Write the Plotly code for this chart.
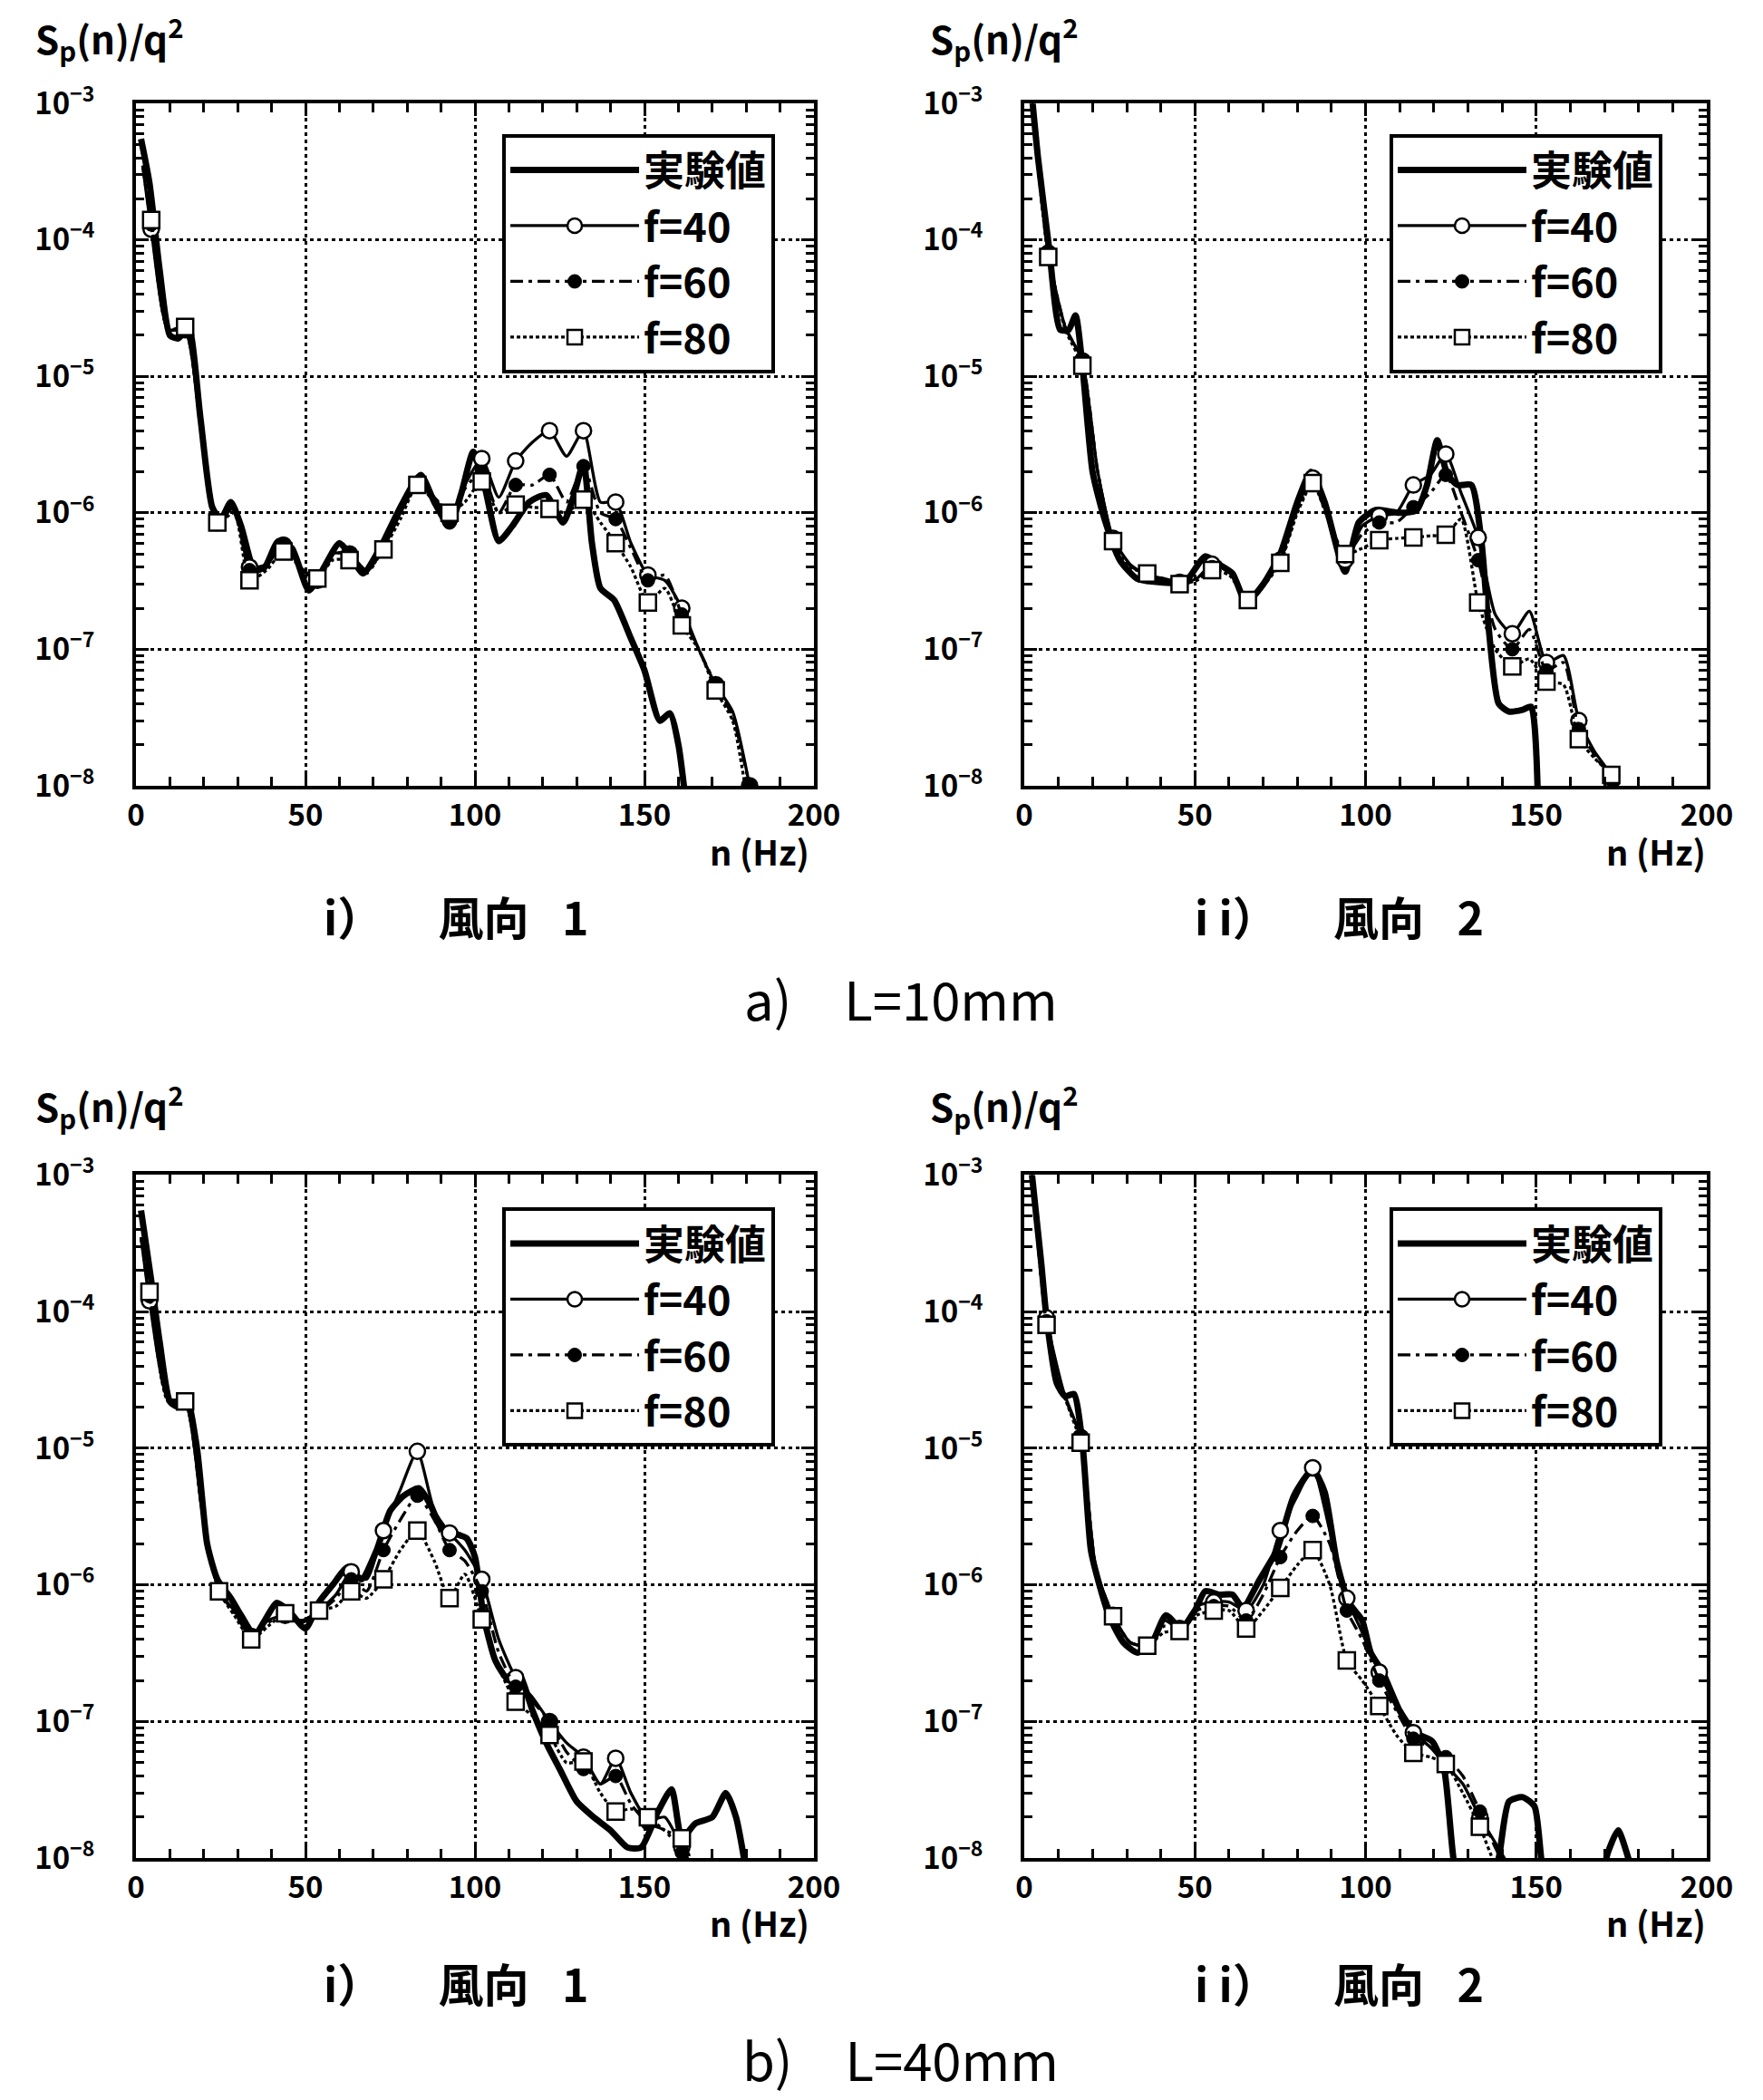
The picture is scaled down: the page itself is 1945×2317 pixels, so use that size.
import plotly.graph_objects as go

# ---------------- tick labels / names ----------------
X_TICKS = [0, 50, 100, 150, 200]
X_TICK_TEXT = ["0", "50", "100", "150", "200"]
Y_TICKS = [1e-8, 1e-7, 1e-6, 1e-5, 1e-4, 1e-3]
Y_TICK_TEXT = ["10<sup>−8</sup>", "10<sup>−7</sup>", "10<sup>−6</sup>",
               "10<sup>−5</sup>", "10<sup>−4</sup>", "10<sup>−3</sup>"]
SERIES_NAMES = ["実験値", "f=40", "f=60", "f=80"]

# ---------------- a) L=10mm, i) 風向1 ----------------
A1_EXP_N = [1.5, 4, 7, 10, 12.5, 15.5, 19, 22.5, 25, 28, 31, 35, 38, 42, 46, 51, 55, 60, 63, 67,
            72, 78, 84, 88, 92.5, 96, 99.5, 103, 107, 111, 116, 121, 126, 129, 132, 134.5, 137, 141,
            146, 150, 154.5, 157.5, 160, 163]
A1_EXP = [5.5e-4, 2.6e-4, 6.0e-5, 2.0e-5, 1.9e-5, 2.3e-5, 5.0e-6, 1.1e-6, 9.0e-7, 1.2e-6,
          8.0e-7, 3.8e-7, 4.0e-7, 6.2e-7, 5.5e-7, 2.7e-7, 3.8e-7, 6.0e-7, 5.0e-7, 3.6e-7,
          5.5e-7, 1.1e-6, 1.9e-6, 1.2e-6, 8.0e-7, 1.4e-6, 2.8e-6, 1.5e-6, 6.2e-7, 8.0e-7,
          1.2e-6, 1.35e-6, 8.5e-7, 1.3e-6, 2.3e-6, 6.0e-7, 2.8e-7, 2.3e-7, 1.2e-7, 7.0e-8,
          3.0e-8, 3.4e-8, 2.0e-8, 5.0e-9]
A1_F_N = [2, 4.5, 9.5, 14.5, 19, 24, 29, 33.5, 38.5, 43.5, 48.5, 53.5, 58, 63, 68, 73, 78, 83,
          88, 92.5, 97, 102, 107, 112, 117, 122, 127, 132, 137, 141.5, 146, 151, 156, 161, 166,
          171, 176, 181]
A1_F40 = [3.5e-4, 1.2e-4, 2.2e-5, 2.2e-5, 4.5e-6, 8.5e-7, 1.1e-6, 4.0e-7, 4.2e-7, 5.8e-7,
          4.0e-7, 3.2e-7, 5.0e-7, 5.0e-7, 3.8e-7, 5.5e-7, 1.0e-6, 1.6e-6, 1.3e-6, 9.0e-7,
          1.6e-6, 2.5e-6, 1.3e-6, 2.4e-6, 3.3e-6, 4.0e-6, 2.6e-6, 4.0e-6, 1.2e-6, 1.2e-6,
          6.0e-7, 3.5e-7, 3.2e-7, 2.0e-7, 1.0e-7, 5.5e-8, 3.5e-8, 1.0e-8]
A1_F60 = [3.5e-4, 1.3e-4, 2.2e-5, 2.2e-5, 4.5e-6, 8.5e-7, 1.1e-6, 3.8e-7, 4.2e-7, 5.8e-7,
          4.0e-7, 3.2e-7, 5.0e-7, 5.0e-7, 3.6e-7, 5.5e-7, 1.0e-6, 1.6e-6, 1.2e-6, 8.5e-7,
          1.5e-6, 2.0e-6, 1.0e-6, 1.6e-6, 1.6e-6, 1.9e-6, 1.2e-6, 2.2e-6, 1.0e-6, 9.0e-7,
          5.5e-7, 3.2e-7, 3.5e-7, 1.8e-7, 1.0e-7, 5.5e-8, 3.2e-8, 1.0e-8]
A1_F80 = [3.5e-4, 1.4e-4, 2.2e-5, 2.3e-5, 4.5e-6, 8.5e-7, 1.0e-6, 3.2e-7, 3.8e-7, 5.2e-7,
          4.0e-7, 3.3e-7, 4.5e-7, 4.5e-7, 3.7e-7, 5.4e-7, 9.0e-7, 1.6e-6, 1.3e-6, 1.0e-6,
          1.2e-6, 1.7e-6, 1.0e-6, 1.15e-6, 1.1e-6, 1.07e-6, 1.0e-6, 1.25e-6, 8.5e-7, 6.0e-7,
          4.0e-7, 2.2e-7, 2.8e-7, 1.5e-7, 1.0e-7, 5.0e-8, 3.0e-8, 6.0e-9]

# ---------------- a) L=10mm, ii) 風向2 ----------------
A2_EXP_N = [2, 4, 7.3, 10.5, 13, 15, 17, 20, 23.5, 28, 33, 40, 47, 53, 57, 61, 65, 70, 75, 80,
            84, 88, 94, 98, 103, 110, 115, 118, 121, 124, 127, 131, 134, 136, 139, 142, 146,
            148.5, 150.5]
A2_EXP = [1.3e-3, 4.0e-4, 8.5e-5, 2.2e-5, 2.2e-5, 2.8e-5, 1.2e-5, 2.0e-6, 9.0e-7, 4.5e-7,
          3.3e-7, 3.1e-7, 3.1e-7, 4.8e-7, 4.2e-7, 3.6e-7, 2.2e-7, 3.0e-7, 5.0e-7, 1.2e-6,
          2.0e-6, 1.2e-6, 3.7e-7, 8.5e-7, 1.05e-6, 1.0e-6, 1.05e-6, 1.6e-6, 3.4e-6, 1.9e-6,
          1.6e-6, 1.6e-6, 6.0e-7, 1.5e-7, 4.0e-8, 3.5e-8, 3.6e-8, 3.8e-8, 8.0e-9]
A2_F_N = [2, 7, 12, 17, 21.5, 26, 31, 36, 41, 45.5, 50.5, 55, 60, 65.5, 70, 75, 80, 84.5, 89,
          94, 99, 104, 109, 114, 119, 123.5, 128, 133, 138, 143, 148, 153, 158, 162.5, 167,
          172, 177]
A2_F40 = [1.3e-3, 8.0e-5, 2.3e-5, 1.3e-5, 2.0e-6, 6.5e-7, 4.2e-7, 3.5e-7, 3.3e-7, 3.1e-7,
          3.3e-7, 4.2e-7, 3.8e-7, 2.3e-7, 3.0e-7, 4.5e-7, 1.1e-6, 1.8e-6, 9.5e-7, 4.5e-7,
          8.0e-7, 9.5e-7, 1.0e-6, 1.6e-6, 1.9e-6, 2.7e-6, 1.4e-6, 6.6e-7, 1.8e-7, 1.3e-7,
          1.9e-7, 8.0e-8, 9.0e-8, 3.0e-8, 1.8e-8, 1.2e-8, 7.0e-9]
A2_F60 = [1.3e-3, 8.0e-5, 2.3e-5, 1.3e-5, 2.0e-6, 6.3e-7, 4.1e-7, 3.5e-7, 3.2e-7, 3.0e-7,
          3.2e-7, 4.0e-7, 3.7e-7, 2.3e-7, 3.0e-7, 4.4e-7, 1.05e-6, 1.7e-6, 9.0e-7, 4.8e-7,
          7.0e-7, 8.5e-7, 8.5e-7, 1.1e-6, 1.4e-6, 1.9e-6, 1.0e-6, 4.5e-7, 1.4e-7, 1.0e-7,
          1.4e-7, 7.0e-8, 8.0e-8, 2.6e-8, 1.7e-8, 1.1e-8, 7.0e-9]
A2_F80 = [1.2e-3, 7.5e-5, 2.2e-5, 1.2e-5, 2.0e-6, 6.2e-7, 4.0e-7, 3.6e-7, 3.2e-7, 3.0e-7,
          3.2e-7, 3.8e-7, 3.5e-7, 2.3e-7, 2.9e-7, 4.3e-7, 1.0e-6, 1.65e-6, 9.0e-7, 5.0e-7,
          5.5e-7, 6.3e-7, 6.5e-7, 6.6e-7, 6.8e-7, 6.9e-7, 9.0e-7, 2.2e-7, 1.0e-7, 7.5e-8,
          8.5e-8, 5.8e-8, 5.5e-8, 2.2e-8, 1.6e-8, 1.2e-8, 8.0e-9]

# ---------------- b) L=40mm, i) 風向1 ----------------
B1_EXP_N = [1.5, 4.5, 7, 10, 12.5, 15, 18, 21, 24, 28, 31, 35, 38, 41.5, 45, 50, 54, 58, 62.5,
            66.5, 71, 75, 79, 83.5, 87, 90, 93.5, 97.5, 100, 102.5, 106, 110, 113, 117, 121,
            125, 130, 135, 140, 145, 149, 154, 158, 161, 165, 170, 174, 177, 180]
B1_EXP = [5.5e-4, 1.7e-4, 6.0e-5, 2.2e-5, 2.0e-5, 2.3e-5, 1.0e-5, 2.0e-6, 1.1e-6, 8.0e-7,
          6.0e-7, 4.3e-7, 5.5e-7, 7.4e-7, 6.5e-7, 4.8e-7, 7.5e-7, 1.0e-6, 1.35e-6, 1.1e-6,
          1.8e-6, 3.5e-6, 4.5e-6, 5.1e-6, 3.8e-6, 2.6e-6, 2.4e-6, 2.2e-6, 1.6e-6, 6.0e-7,
          2.8e-7, 2.0e-7, 2.2e-7, 1.2e-7, 7.0e-8, 4.5e-8, 2.6e-8, 2.0e-8, 1.6e-8, 1.2e-8,
          1.2e-8, 2.2e-8, 3.2e-8, 1.4e-8, 1.8e-8, 2.0e-8, 3.0e-8, 2.0e-8, 8.0e-9]
B1_F_N = [1.5, 4, 9.5, 14.5, 19.5, 24.5, 29, 34, 39, 44, 49, 54, 59, 63.5, 68, 73, 78, 83, 88,
          92.5, 97, 102, 107, 112, 117, 122, 127, 132, 137, 141.5, 146, 151, 156, 161, 166]
B1_F40 = [3.5e-4, 1.2e-4, 2.3e-5, 2.2e-5, 3.5e-6, 9.0e-7, 6.5e-7, 4.2e-7, 5.5e-7, 6.0e-7,
          5.5e-7, 6.5e-7, 8.5e-7, 1.25e-6, 1.1e-6, 2.5e-6, 5.0e-6, 9.5e-6, 3.5e-6, 2.4e-6,
          1.8e-6, 1.1e-6, 4.0e-7, 2.1e-7, 1.5e-7, 1.0e-7, 7.0e-8, 5.5e-8, 3.5e-8, 5.4e-8,
          3.0e-8, 1.9e-8, 2.0e-8, 1.2e-8, 7.0e-9]
B1_F60 = [3.5e-4, 1.3e-4, 2.3e-5, 2.2e-5, 3.5e-6, 9.0e-7, 6.3e-7, 4.2e-7, 5.3e-7, 6.0e-7,
          5.3e-7, 6.3e-7, 8.0e-7, 1.1e-6, 9.0e-7, 1.8e-6, 3.0e-6, 4.5e-6, 3.0e-6, 1.8e-6,
          1.5e-6, 9.0e-7, 3.2e-7, 1.8e-7, 1.4e-7, 1.0e-7, 6.0e-8, 4.5e-8, 3.5e-8, 4.0e-8,
          2.5e-8, 1.8e-8, 1.6e-8, 1.1e-8, 7.0e-9]
B1_F80 = [3.5e-4, 1.4e-4, 2.2e-5, 2.2e-5, 3.5e-6, 9.0e-7, 6.0e-7, 4.0e-7, 5.0e-7, 6.2e-7,
          5.5e-7, 6.5e-7, 7.0e-7, 9.0e-7, 8.0e-7, 1.1e-6, 1.8e-6, 2.5e-6, 1.5e-6, 8.0e-7,
          1.2e-6, 5.6e-7, 2.5e-7, 1.4e-7, 1.1e-7, 8.0e-8, 5.0e-8, 5.1e-8, 3.0e-8, 2.2e-8,
          2.3e-8, 2.0e-8, 1.6e-8, 1.4e-8, 6.0e-9]

# ---------------- b) L=40mm, ii) 風向2 ----------------
B2_EXP_N = [1.5, 3.5, 5, 6.5, 9.5, 12, 14.5, 17, 19.5, 22, 25, 29, 33, 37, 41.5, 46, 50, 53, 57,
            61, 64, 69, 74, 79, 84.5, 88, 91.5, 95, 99, 101.5, 105, 110, 114.5, 119.5, 123, 126,
            130, 135, 139, 142, 146, 149.5, 152, 158, 165, 171, 174, 177, 180]
B2_EXP = [1.5e-3, 5.0e-4, 2.2e-4, 9.0e-5, 3.0e-5, 2.4e-5, 2.5e-5, 1.1e-5, 1.8e-6, 1.0e-6,
          5.8e-7, 3.8e-7, 3.2e-7, 3.6e-7, 6.0e-7, 4.8e-7, 6.5e-7, 9.0e-7, 8.5e-7, 8.5e-7,
          6.8e-7, 1.1e-6, 1.8e-6, 4.5e-6, 7.0e-6, 4.8e-6, 1.5e-6, 7.5e-7, 5.5e-7, 3.2e-7,
          2.3e-7, 1.2e-7, 8.3e-8, 7.2e-8, 4.5e-8, 9.0e-9, 4.0e-9, 5.0e-9, 1.0e-8, 2.6e-8,
          2.8e-8, 2.4e-8, 8.0e-9, 3.0e-9, 3.0e-9, 1.1e-8, 1.6e-8, 1.0e-8, 5.0e-9]
B2_F_N = [2, 6.5, 11.5, 16.5, 21, 26, 31, 36, 41, 45.5, 50.5, 55.5, 60, 65, 70, 75, 80, 84.5,
          89.5, 94.5, 99, 104, 109, 114, 119, 123.5, 128.5, 133.5, 138, 143, 148]
B2_F40 = [1.2e-3, 9.0e-5, 2.6e-5, 1.2e-5, 1.3e-6, 6.0e-7, 3.8e-7, 3.6e-7, 5.5e-7, 4.8e-7,
          7.0e-7, 7.5e-7, 7.5e-7, 6.5e-7, 1.0e-6, 2.5e-6, 4.5e-6, 7.2e-6, 2.5e-6, 8.0e-7,
          4.5e-7, 2.3e-7, 1.3e-7, 8.3e-8, 6.5e-8, 4.8e-8, 3.5e-8, 2.0e-8, 1.3e-8, 8.0e-9,
          5.0e-9]
B2_F60 = [1.2e-3, 8.5e-5, 2.5e-5, 1.2e-5, 1.3e-6, 6.0e-7, 3.8e-7, 3.6e-7, 5.0e-7, 4.7e-7,
          6.5e-7, 7.0e-7, 7.0e-7, 5.5e-7, 8.5e-7, 1.6e-6, 2.5e-6, 3.2e-6, 2.0e-6, 6.5e-7,
          4.0e-7, 2.0e-7, 1.2e-7, 7.5e-8, 6.5e-8, 5.5e-8, 4.0e-8, 2.2e-8, 1.2e-8, 7.0e-9,
          5.0e-9]
B2_F80 = [1.2e-3, 8.0e-5, 2.5e-5, 1.1e-5, 1.3e-6, 5.9e-7, 3.8e-7, 3.6e-7, 4.5e-7, 4.6e-7,
          6.0e-7, 6.5e-7, 6.5e-7, 4.8e-7, 6.5e-7, 9.5e-7, 1.4e-6, 1.8e-6, 1.0e-6, 2.8e-7,
          2.0e-7, 1.3e-7, 8.0e-8, 5.9e-8, 5.5e-8, 4.9e-8, 3.0e-8, 1.7e-8, 9.0e-9, 6.0e-9,
          4.0e-9]

PANELS = [
    dict(ax="", exp_n=A1_EXP_N, exp=A1_EXP, f_n=A1_F_N, f=[A1_F40, A1_F60, A1_F80]),
    dict(ax="2", exp_n=A2_EXP_N, exp=A2_EXP, f_n=A2_F_N, f=[A2_F40, A2_F60, A2_F80]),
    dict(ax="3", exp_n=B1_EXP_N, exp=B1_EXP, f_n=B1_F_N, f=[B1_F40, B1_F60, B1_F80]),
    dict(ax="4", exp_n=B2_EXP_N, exp=B2_EXP, f_n=B2_F_N, f=[B2_F40, B2_F60, B2_F80]),
]

# ---------------- styles ----------------
CJK = "Noto Sans CJK JP"
F_STYLES = [
    dict(line=dict(color="black", width=3.3, dash="solid"),
         marker=dict(symbol="circle", size=17, color="white", line=dict(color="black", width=2.5))),
    dict(line=dict(color="black", width=3.3, dash="14px,6px,4px,6px"),
         marker=dict(symbol="circle", size=15, color="black", line=dict(color="black", width=1))),
    dict(line=dict(color="black", width=3.3, dash="4px,3px"),
         marker=dict(symbol="square", size=18, color="white", line=dict(color="black", width=2.5))),
]

fig = go.Figure()
for p in PANELS:
    xa = "x" + p["ax"]
    ya = "y" + p["ax"]
    lg = "legend" + p["ax"]
    fig.add_trace(go.Scatter(
        x=p["exp_n"], y=p["exp"], name=SERIES_NAMES[0], mode="lines",
        line=dict(color="black", width=7, shape="spline", smoothing=0.6),
        xaxis=xa, yaxis=ya, legend=lg, legendgroup="g0" + p["ax"], hoverinfo="skip"))
    marker_idx = list(range(1, len(p["f_n"]), 2))
    for k, vals in enumerate(p["f"]):
        st = F_STYLES[k]
        fig.add_trace(go.Scatter(
            x=p["f_n"], y=vals, name=SERIES_NAMES[k + 1], mode="lines+markers",
            line=dict(st["line"], shape="spline", smoothing=0.6),
            marker=st["marker"],
            selectedpoints=marker_idx,
            selected=dict(marker=dict(opacity=1)),
            unselected=dict(marker=dict(opacity=0)),
            xaxis=xa, yaxis=ya, legend=lg, legendgroup="g%d%s" % (k + 1, p["ax"]),
            hoverinfo="skip"))

# page body has an 8px margin: figure is 1937x2309, placed at (8, 8)
XDOM_L = [0.0733, 0.4595]
XDOM_R = [0.5793, 0.9680]
YDOM_T = [0.6280, 0.9540]
YDOM_B = [0.1155, 0.4420]

tick_font = dict(family=CJK, size=33, color="black", weight="bold")

def xaxis(dom, anchor):
    return dict(domain=dom, anchor=anchor, range=[0, 200], tickmode="array",
                tickvals=X_TICKS, ticktext=X_TICK_TEXT, ticks="inside", ticklen=14,
                tickwidth=3, tickcolor="black", showline=True, linewidth=4,
                linecolor="black", mirror="ticks", showgrid=True, gridcolor="black",
                gridwidth=2.5, griddash="4px,4px", zeroline=False, tickfont=tick_font,
                ticklabelstandoff=0, automargin=False,
                minor=dict(dtick=10, tick0=0, ticks="inside", ticklen=10, tickwidth=3,
                           tickcolor="black", showgrid=False))

def yaxis(dom, anchor):
    return dict(domain=dom, anchor=anchor, type="log", range=[-8, -3], tickmode="array",
                tickvals=Y_TICKS, ticktext=Y_TICK_TEXT, ticks="inside", ticklen=14,
                tickwidth=3, tickcolor="black", showline=True, linewidth=4,
                linecolor="black", mirror="ticks", showgrid=True, gridcolor="black",
                gridwidth=2.5, griddash="4px,4px", zeroline=False, tickfont=tick_font,
                ticklabelstandoff=35, automargin=False,
                minor=dict(dtick="D1", ticks="inside", ticklen=9, tickwidth=2.5,
                           tickcolor="black", showgrid=False))

legend_style = dict(bgcolor="white", bordercolor="black", borderwidth=4,
                    font=dict(family=CJK, size=45, color="black", weight="bold"),
                    xanchor="left", yanchor="top", itemwidth=142, tracegroupgap=0,
                    itemclick=False, itemdoubleclick=False)

annotations = []
label_sp = "S<sub>p</sub>(n)/q<sup>2</sup>"
for (ax_x, ax_y) in [(0.0150, 0.9853), (0.5245, 0.9853), (0.0150, 0.4751), (0.5245, 0.4751)]:
    annotations.append(dict(text=label_sp, x=ax_x, y=ax_y, xref="paper", yref="paper",
                            xanchor="left", yanchor="middle", showarrow=False,
                            font=dict(family=CJK, size=42, color="black", weight="bold")))
for (ax_x, ax_y) in [(0.4579, 0.5972), (0.9685, 0.5972), (0.4579, 0.0849), (0.9685, 0.0849)]:
    annotations.append(dict(text="n (Hz)", x=ax_x, y=ax_y, xref="paper", yref="paper",
                            xanchor="right", yanchor="middle", showarrow=False,
                            font=dict(family=CJK, size=38, color="black", weight="bold")))
CAP_1 = "i）　\u2002 風向\u2002 1"
CAP_2 = "i i）　\u2002 風向\u2002 2"
for (txt, ax_x, ax_y) in [(CAP_1, 0.2555, 0.5661), (CAP_2, 0.7589, 0.5661),
                          (CAP_1, 0.2555, 0.0563), (CAP_2, 0.7589, 0.0563)]:
    annotations.append(dict(text=txt, x=ax_x, y=ax_y, xref="paper", yref="paper",
                            xanchor="center", yanchor="middle", showarrow=False,
                            font=dict(family=CJK, size=50, color="black", weight="bold")))
for (txt, ax_y) in [("a)　L=10mm", 0.5266), ("b)　L=40mm", 0.0200)]:
    annotations.append(dict(text=txt, x=0.5090, y=ax_y, xref="paper", yref="paper",
                            xanchor="center", yanchor="middle", showarrow=False,
                            font=dict(family=CJK, size=58, color="black")))

fig.update_layout(
    width=1937, height=2309, autosize=False,
    margin=dict(l=0, r=0, t=0, b=0, autoexpand=False),
    paper_bgcolor="white", plot_bgcolor="white",
    showlegend=True,
    xaxis=xaxis(XDOM_L, "y"), yaxis=yaxis(YDOM_T, "x"),
    xaxis2=xaxis(XDOM_R, "y2"), yaxis2=yaxis(YDOM_T, "x2"),
    xaxis3=xaxis(XDOM_L, "y3"), yaxis3=yaxis(YDOM_B, "x3"),
    xaxis4=xaxis(XDOM_R, "y4"), yaxis4=yaxis(YDOM_B, "x4"),
    legend=dict(legend_style, x=0.2819, y=0.9395),
    legend2=dict(legend_style, x=0.7873, y=0.9395),
    legend3=dict(legend_style, x=0.2819, y=0.4265),
    legend4=dict(legend_style, x=0.7873, y=0.4265),
    annotations=annotations,
)

fig.write_html("out.html")
